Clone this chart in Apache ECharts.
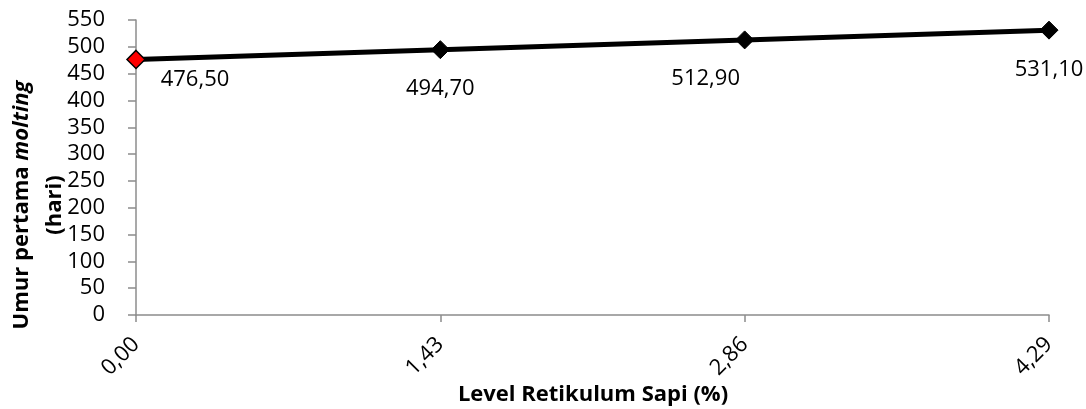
<!DOCTYPE html>
<html>
<head>
<meta charset="utf-8">
<script src="https://cdn.jsdelivr.net/npm/echarts@6/dist/echarts.min.js"></script>
<style>
  html, body { margin: 0; padding: 0; background: #fff; }
  #chart { width: 1086px; height: 409px; }
</style>
</head>
<body>
<div id="chart"></div>
<script>
// Levels of beef reticulum in the feed (%), shown as category labels
const levels = ['0,00', '1,43', '2,86', '4,29'];
// Age at first molting (days)
const ageFirstMolting = [476.5, 494.7, 512.9, 531.1];
// Y axis range and step
const yMin = 0, yMax = 550, yStep = 50;

const FONT = 'Open Sans';
const fmt = v => v.toFixed(2).replace('.', ',');

// per-point label placement (px offsets from the marker)
const labelOffsets = [[59, 20], [0, 39], [-39, 39], [0, 40]];

const chart = echarts.init(document.getElementById('chart'), null, { renderer: 'canvas' });

const seriesData = ageFirstMolting.map((v, i) => ({
  value: v,
  itemStyle: i === 0
    ? { color: '#ff0000', borderColor: '#000', borderWidth: 1.5 }
    : { color: '#000', borderColor: '#000', borderWidth: 1 },
  label: { offset: labelOffsets[i] }
}));

chart.setOption({
  animation: false,
  backgroundColor: '#fff',
  grid: { left: 136, right: 37, top: 20, bottom: 94, containLabel: false },
  xAxis: {
    type: 'category',
    data: levels,
    boundaryGap: false,
    axisLine: { lineStyle: { color: '#8c8c8c', width: 1.5 } },
    axisTick: { show: true, alignWithLabel: true, length: 7, lineStyle: { color: '#8c8c8c', width: 1.5 } },
    axisLabel: { rotate: 45, fontFamily: FONT, fontSize: 22, color: '#000', margin: 26 },
    splitLine: { show: false }
  },
  yAxis: {
    type: 'value',
    min: yMin, max: yMax, interval: yStep,
    axisLine: { show: true, lineStyle: { color: '#8c8c8c', width: 1.5 } },
    axisTick: { show: true, length: 8, lineStyle: { color: '#8c8c8c', width: 1.5 } },
    axisLabel: { fontFamily: FONT, fontSize: 22, color: '#000', margin: 31 },
    splitLine: { show: false }
  },
  graphic: [
    {
      type: 'text',
      x: 38, y: 205,
      rotation: Math.PI / 2,
      style: {
        text: '{b|Umur pertama }{i|molting}\n{b|(hari)}',
        align: 'center',
        verticalAlign: 'middle',
        lineHeight: 33,
        fill: '#000',
        rich: {
          b: { fontFamily: FONT, fontWeight: 'bold', fontSize: 22, lineHeight: 33 },
          i: { fontFamily: FONT, fontWeight: 'bold', fontStyle: 'italic', fontSize: 22, lineHeight: 33 }
        }
      }
    },
    {
      type: 'text',
      x: 593, y: 395,
      style: {
        text: 'Level Retikulum Sapi (%)',
        align: 'center',
        verticalAlign: 'middle',
        fontFamily: FONT, fontWeight: 'bold', fontSize: 22, fill: '#000'
      }
    }
  ],
  series: [{
    type: 'line',
    data: seriesData,
    symbol: 'diamond',
    symbolSize: 18,
    lineStyle: { color: '#000', width: 5 },
    label: {
      show: true,
      position: 'inside',
      formatter: p => fmt(p.value),
      fontFamily: FONT, fontSize: 22, color: '#000'
    }
  }]
});
</script>
</body>
</html>
